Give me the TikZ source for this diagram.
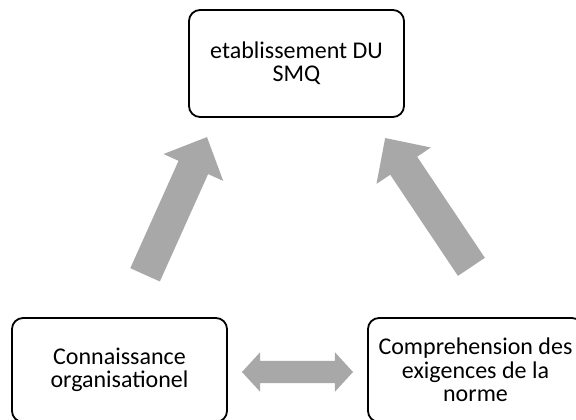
\documentclass[tikz,border=0pt]{standalone}
\usepackage{fontspec}
\setmainfont{Carlito}
\usetikzlibrary{shapes.arrows}
\definecolor{arrowgray}{RGB}{168,168,168}
\tikzset{
  box/.style={draw=black, line width=1.8pt, rounded corners=11pt, align=center,
    minimum width=215pt, inner sep=0pt, font=\fontsize{24}{23.5}\selectfont},
  bigarrow/.style={single arrow, fill=arrowgray, draw=none, inner xsep=0pt, inner ysep=16pt,
    minimum width=65pt, single arrow head extend=16.5pt, single arrow tip angle=89},
  dblarrow/.style={double arrow, fill=arrowgray, draw=none, inner xsep=0pt, inner ysep=11pt,
    minimum width=39pt, double arrow head extend=8.5pt, double arrow tip angle=95}
}
\begin{document}
\begin{tikzpicture}[x=1pt,y=-1pt]
\clip (0,0) rectangle (576,420);
\fill[white] (0,0) rectangle (576,420);
\node[box, minimum height=107pt] (top) at (296.5,63.5) {etablissement DU\\SMQ};
\node[box, minimum height=104pt] (left) at (119.5,370) {Connaissance\\organisationel};
\node[box, minimum height=104pt] (right) at (475.5,370) {Comprehension des\\exigences de la\\norme};
\node[bigarrow, minimum height=151pt, rotate=65.8, anchor=tail] (la) at (145,275) {};
\node[bigarrow, minimum height=155pt, rotate=123.8, anchor=tail] (ra) at (471.5,267) {};
\node[dblarrow, minimum height=111pt] (da) at (297.5,372) {};
\end{tikzpicture}
\end{document}
